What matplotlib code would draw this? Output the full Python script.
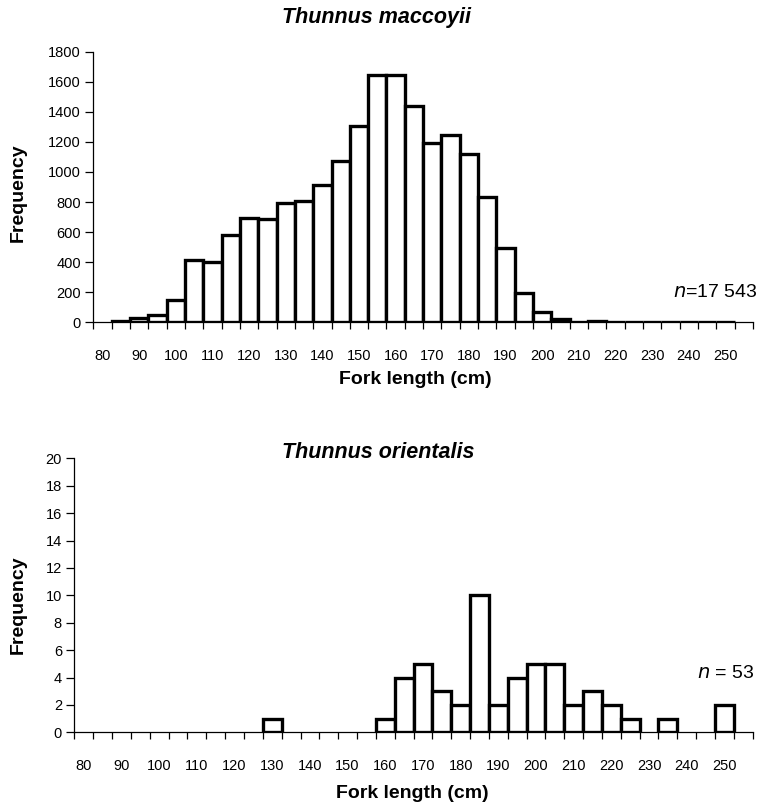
import numpy as np
import matplotlib
matplotlib.use("Agg")
import matplotlib.pyplot as plt

plt.rcParams["font.family"] = ["Liberation Sans", "DejaVu Sans"]

# 5 cm fork-length classes, 80 to 255 cm
length_classes = list(range(80, 260, 5))
tick_values = list(range(80, 260, 10))

maccoyii_counts = [0, 8, 28, 50, 150, 415, 400, 578, 695, 688, 795, 805,
                   915, 1075, 1305, 1645, 1645, 1440, 1195, 1245, 1120, 835,
                   495, 193, 70, 22, 4, 8, 2, 2, 2, 1, 2, 1, 1, 0]
orientalis_counts = [0, 0, 0, 0, 0, 0, 0, 0, 0, 0, 1, 0,
                     0, 0, 0, 0, 1, 4, 5, 3, 2, 10, 2, 4,
                     5, 5, 2, 3, 2, 1, 0, 1, 0, 0, 2, 0]

W, H = 765, 807
fig = plt.figure(figsize=(W / 100, H / 100), dpi=100)


def px_axes(left, right, top, bottom):
    return fig.add_axes([left / W, 1 - bottom / H, (right - left) / W, (bottom - top) / H])


def draw_hist(ax, counts, ymax, ystep):
    idx = np.arange(len(length_classes))
    heights = np.array(counts, dtype=float)
    keep = heights > 0
    ax.bar(idx[keep], heights[keep], width=1.0, facecolor="white",
           edgecolor="black", linewidth=2.4, zorder=3)
    ax.set_xlim(-0.5, len(length_classes) - 0.5)
    ax.set_ylim(0, ymax)
    ax.set_yticks(np.arange(0, ymax + 1, ystep))
    # boundary ticks, labels every other class
    ax.set_xticks(np.arange(len(length_classes) + 1) - 0.5)
    ax.set_xticklabels([])
    ax.set_xticks([length_classes.index(v) for v in tick_values], minor=True)
    ax.set_xticklabels([str(v) for v in tick_values], minor=True)
    ax.tick_params(axis="x", which="major", direction="out", length=5, width=0.9)
    ax.tick_params(axis="x", which="minor", length=0, pad=19, labelsize=10.5)
    ax.tick_params(axis="y", direction="out", length=6, width=0.9, pad=3, labelsize=10.5)
    for side in ("top", "right"):
        ax.spines[side].set_visible(False)
    for side in ("left", "bottom"):
        ax.spines[side].set_linewidth(0.9)


ax1 = px_axes(93.3, 753, 51.7, 322.3)
draw_hist(ax1, maccoyii_counts, 1800, 200)

ax2 = px_axes(74.4, 752.7, 458.3, 732.3)
draw_hist(ax2, orientalis_counts, 20, 2)

title_kw = dict(fontsize=15.5, fontweight="bold", fontstyle="italic", ha="center", va="center")
label_kw = dict(fontsize=14, fontweight="bold", ha="center", va="center")

fig.text(377 / W, 1 - 18 / H, "Thunnus maccoyii", **title_kw)
fig.text(378 / W, 1 - 452 / H, "Thunnus orientalis", **title_kw)

fig.text(415 / W, 1 - 379 / H, "Fork length (cm)", **label_kw)
fig.text(412 / W, 1 - 794 / H, "Fork length (cm)", **label_kw)

fig.text(18 / W, 1 - 193 / H, "Frequency", rotation=90, **label_kw)
fig.text(18 / W, 1 - 605 / H, "Frequency", rotation=90, **label_kw)

fig.text(758 / W, 1 - 297 / H, r"$\it{n}$=17 543", fontsize=14, ha="right", va="baseline")
fig.text(754 / W, 1 - 678 / H, r"$\it{n}$ = 53", fontsize=14, ha="right", va="baseline")

fig.savefig("out.png", dpi=100)
